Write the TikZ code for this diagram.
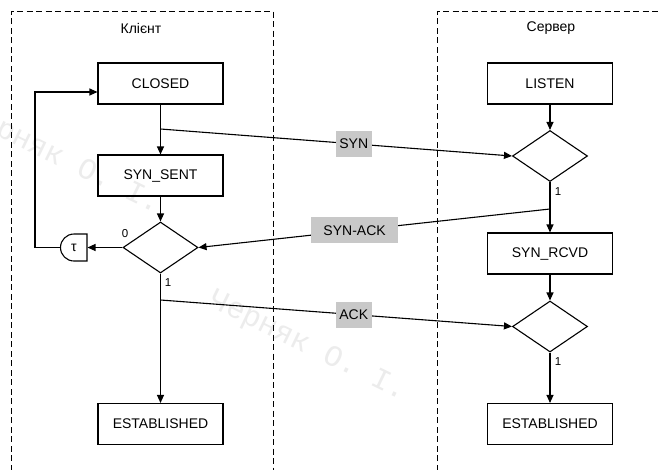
\documentclass[tikz,border=0pt]{standalone}
\usepackage{fontspec}
\setmainfont{Liberation Sans}
\newfontfamily\markfont{Liberation Mono}
\usetikzlibrary{shapes.geometric,shapes.misc,arrows.meta}
\definecolor{lblgray}{RGB}{200,200,200}
\definecolor{markgray}{RGB}{236,236,236}
\tikzset{
  x=1pt, y=-1pt,
  every node/.style={font=\fontsize{14}{16}\selectfont},
  statebox/.style={draw, line width=1.1pt, minimum width=125pt, minimum height=41pt, inner sep=0pt},
  choice/.style={draw, line width=1.1pt, diamond, minimum width=75pt, minimum height=51pt, inner sep=0pt},
  timer/.style={draw, line width=1.1pt, rounded rectangle, rounded rectangle right arc=none,
                minimum width=26pt, minimum height=27pt, inner sep=0pt},
  arr/.style={line width=1.1pt, -{Triangle[length=8pt,width=7pt]}},
  msg/.style={fill=lblgray, minimum height=26pt, minimum width=36pt, inner sep=0pt},
  branch/.style={font=\fontsize{11.5}{13}\selectfont, inner sep=0pt},
  lane/.style={line width=1pt, dash pattern=on 6pt off 3.5pt},
  watermark/.style={font=\markfont\fontsize{30}{32}\selectfont, text=markgray, rotate=-26, inner sep=0pt}
}
\begin{document}
\begin{tikzpicture}
\useasboundingbox (0,0) rectangle (659,469);
\clip (0,0) rectangle (659,469);
\fill[white] (0,0) rectangle (659,469);

% faint author marks
\node[watermark] (wm1) at (62,160) {Черняк О. І.};
\node[watermark] (wm2) at (308,347) {Черняк О. І.};

% swim lanes
\draw[lane] (11,480) -- (11,11) -- (273,11) -- (273,480);
\draw[lane] (437,480) -- (437,11) -- (670,11);
\node (client) at (141,28) {Клієнт};
\node (server) at (551,28) {Сервер};

% client side
\node[statebox] (closed)  at (160.5,83.5) {CLOSED};
\node[statebox] (synsent) at (160.5,175.5) {SYN\_SENT};
\node[choice]   (dc)      at (160.5,247.5) {};
\node[timer]    (tm)      at (74,247.5) {τ};
\node[statebox] (estc)    at (160.5,424) {ESTABLISHED};

% server side
\node[statebox] (listen)  at (550,83.5) {LISTEN};
\node[choice]   (d1)      at (550,156) {};
\node[statebox] (synrcvd) at (550,253.5) {SYN\_RCVD};
\node[choice]   (d2)      at (550,326.5) {};
\node[statebox] (ests)    at (550,424) {ESTABLISHED};

% branch marks
\node[branch] (b0)  at (125,234) {0};
\node[branch] (b1)  at (168,283) {1};
\node[branch] (b2)  at (558,192) {1};
\node[branch] (b3)  at (558,362) {1};

% taps for the messages
\coordinate (s1) at (160.5,129);
\coordinate (s2) at (550,209);
\coordinate (s3) at (160.5,300);
\coordinate (corner) at (35,92);

% client flow
\draw[arr] (closed) -- (synsent);
\draw[arr] (synsent) -- (dc);
\draw[arr] (dc.west) -- (tm.east);
\draw[arr] (tm.west) -| (corner) -- (corner -| closed.west);
\draw[arr] (dc.south) -- (estc);

% server flow
\draw[arr] (listen) -- (d1);
\draw[arr] (d1.south) -- (synrcvd);
\draw[arr] (synrcvd) -- (d2);
\draw[arr] (d2.south) -- (ests);

% messages
\draw[arr] (s1) -- node[msg, pos=0.55] {SYN} (d1.west);
\draw[arr] (s2) -- node[msg, pos=0.556, minimum width=87pt] {SYN-ACK} (dc.east);
\draw[arr] (s3) -- node[msg, pos=0.55] {ACK} (d2.west);
\end{tikzpicture}
\end{document}
